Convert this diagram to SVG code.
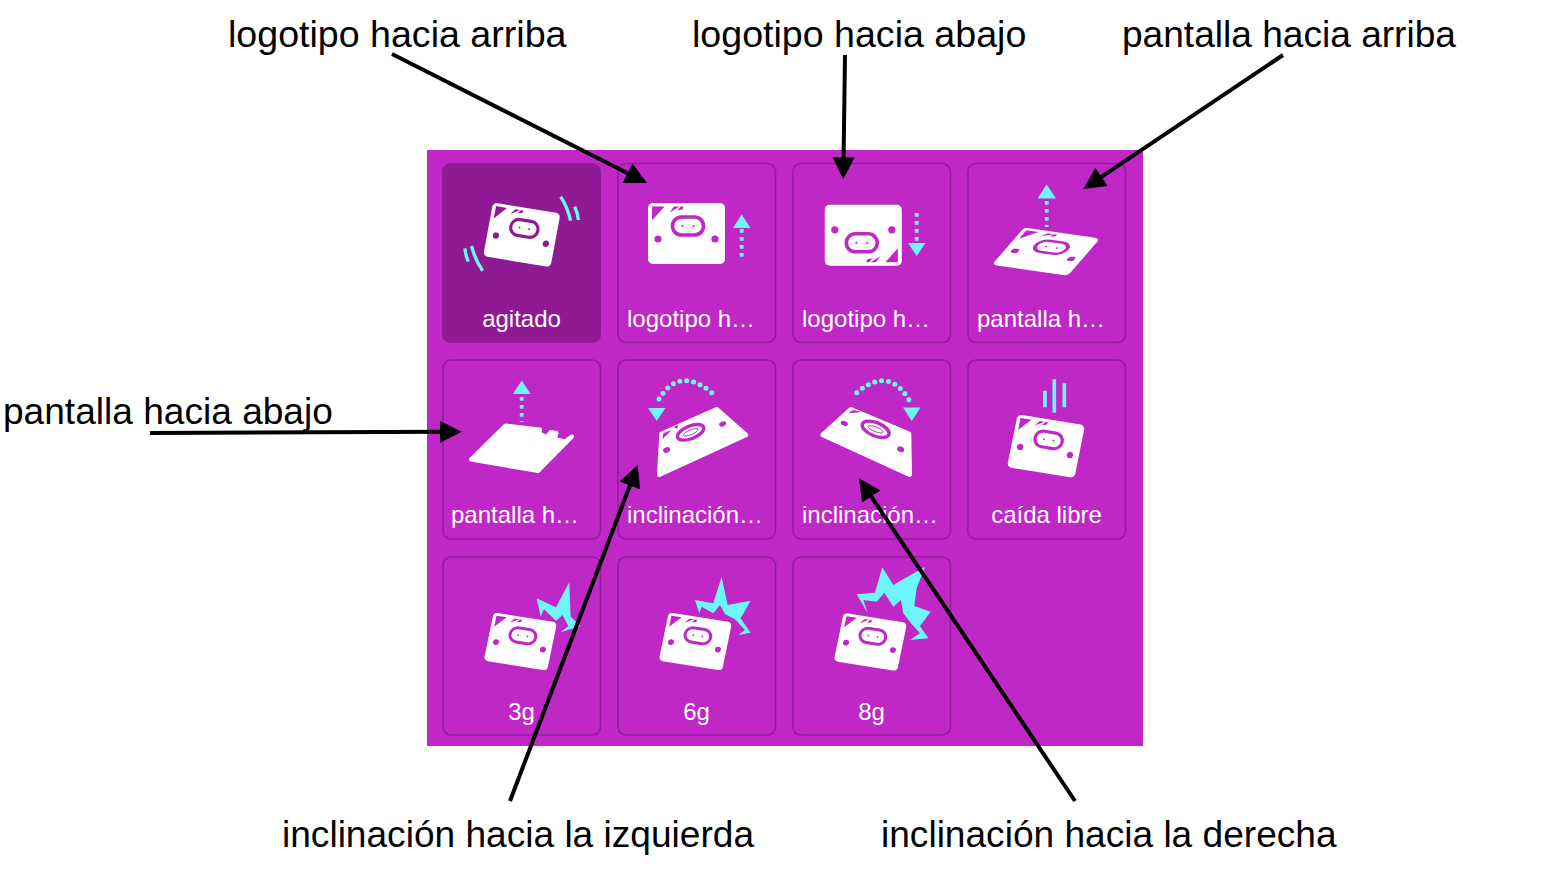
<svg xmlns="http://www.w3.org/2000/svg" xmlns:xlink="http://www.w3.org/1999/xlink" width="1552" height="879" viewBox="0 0 1552 879">
<style>
text{font-family:"Liberation Sans",Arial,sans-serif}
.bg{fill:#c027c7}
.tile{fill:#c027c7;stroke:#921e9a;stroke-width:1.6}
.tile.sel{fill:#901a94;stroke:none}
.tl{fill:#fff;font-size:24px;text-anchor:middle}
.tls{fill:#fff;font-size:24px}
.cap{fill:#000;font-size:37.1px}
.cap.big{font-size:37.6px}
.w{fill:#fff}
.cut{fill:currentColor}
.ovl{fill:#fff;stroke:currentColor;stroke-width:3.6}
.c{fill:#6ef7fb}
.dots{fill:none;stroke:#6ef7fb;stroke-width:3.8;stroke-dasharray:3.8 4.2}
.arc{fill:none;stroke:#6ef7fb;stroke-width:5;stroke-linecap:round;stroke-dasharray:0 7}
.sh{fill:none;stroke:#6ef7fb;stroke-width:10}
.ar{stroke:#000;stroke-width:4;fill:none;marker-end:url(#ah)}
</style>
<defs>
<marker id="ah" markerUnits="userSpaceOnUse" markerWidth="22" markerHeight="22" refX="6" refY="11" orient="auto" viewBox="0 0 22 22"><path d="M0 0L22 11L0 22Z" fill="#000"/></marker>
<g id="board">
<rect x="-38.5" y="-30.5" width="77" height="61" rx="5" class="w"/>
<polygon class="cut" points="-34.5,-27 -22,-27 -34.5,-13"/>
<polygon class="cut" points="-17,-21 -12.5,-27 -7,-27"/>
<polygon class="cut" points="-9,-23 -6,-27 -3,-27 -4,-24"/>
<rect x="-14" y="-16.5" width="31" height="18" rx="9" class="ovl"/>
<circle cx="-4" cy="-7.5" r="1.1" class="cut"/><circle cx="7" cy="-7.5" r="1.1" class="cut"/>
<circle cx="-28.5" cy="5.5" r="3.6" class="cut"/><circle cx="28.5" cy="5.5" r="3.6" class="cut"/>
</g>
</defs>
<rect class="bg" x="427" y="150" width="716" height="596"/>

<g id="agitado" color="#901a94">
<rect class="tile sel" x="442" y="163.3" width="159" height="179.5" rx="8"/>
<use xlink:href="#board" href="#board" transform="matrix(.875 .143 -.164 .88 521.8 234.8)"/>
<g transform="translate(430 150) scale(.3333)">
<path class="sh" d="M392 140Q412 170 422 212"/><path class="sh" d="M434 170Q444 190 445 210"/>
<path class="sh" d="M105 295Q106 315 115 335"/><path class="sh" d="M125 288Q135 330 158 362"/>
</g>
<text class="tl" x="521.5" y="326.5">agitado</text>
</g>

<g id="logotipo-arriba" color="#c027c7">
<rect class="tile" x="618" y="163.5" width="157.5" height="179" rx="8"/>
<use xlink:href="#board" href="#board" transform="translate(686.5 233.5)"/>
<polygon class="c" points="741.7,214.5 733,228 750.5,228"/>
<line class="dots" x1="741.7" y1="229" x2="741.7" y2="257"/>
<text class="tls" x="627" y="326.5">logotipo h…</text>
</g>

<g id="logotipo-abajo" color="#c027c7">
<rect class="tile" x="793" y="163.5" width="157.5" height="179" rx="8"/>
<use xlink:href="#board" href="#board" transform="rotate(180 863.3 235.3) translate(863.3 235.3)"/>
<polygon class="c" points="916.7,256 908,243 925.5,243"/>
<line class="dots" x1="916.7" y1="213" x2="916.7" y2="241"/>
<text class="tls" x="802" y="326.5">logotipo h…</text>
</g>

<g id="pantalla-arriba" color="#c027c7">
<rect class="tile" x="968" y="163.5" width="157.5" height="179" rx="8"/>
<use xlink:href="#board" href="#board" transform="matrix(.985 .143 -.53 .61 1046 251.6)"/>
<polygon class="c" points="1046.7,184.5 1037.5,198.5 1056,198.5"/>
<line class="dots" x1="1046.7" y1="201" x2="1046.7" y2="227"/>
<text class="tls" x="977" y="326.5">pantalla h…</text>
</g>

<g id="pantalla-abajo" color="#c027c7">
<rect class="tile" x="443" y="360" width="157.5" height="179" rx="8"/>
<path class="w" stroke="#fff" stroke-width="4" stroke-linejoin="round" d="M505.5 425.5L540 429.5L539.5 433.5L546.7 437L550.7 432L556.5 433L555 439L565 441.5L572 436.5L538 471L471 459.5Z"/>
<polygon class="c" points="521.7,380.5 513,394 530.5,394"/>
<line class="dots" x1="521.7" y1="397" x2="521.7" y2="422"/>
<text class="tls" x="451" y="522.5">pantalla h…</text>
</g>

<g id="inclinacion-izquierda" color="#c027c7">
<rect class="tile" x="618" y="360" width="157.5" height="179" rx="8"/>
<g transform="translate(430 350) scale(.3333)">
<polygon class="w" stroke="#fff" stroke-width="14" stroke-linejoin="round" points="695,252 860,178 948,255 688,374"/>
<polygon class="cut" points="697,268 700,250 725,240"/>
<polygon class="cut" points="730,232 745,225 742,236"/>
<ellipse cx="782" cy="247" rx="42" ry="19" transform="rotate(-22 782 247)" fill="none" stroke="currentColor" stroke-width="10"/>
<ellipse cx="782" cy="247" rx="24" ry="7" transform="rotate(-22 782 247)" fill="none" stroke="currentColor" stroke-width="2.5"/>
<ellipse cx="710" cy="300" rx="11" ry="8" transform="rotate(-22 710 300)" class="cut"/>
<ellipse cx="878" cy="222" rx="11" ry="7" transform="rotate(-22 878 222)" class="cut"/>
</g>
<path class="arc" d="M711.7 392.7Q679 365.5 658.3 400"/>
<polygon class="c" points="656.7,421 648,408 665.5,408"/>
<text class="tls" x="627" y="522.5">inclinación…</text>
</g>

<g id="inclinacion-derecha" color="#c027c7">
<rect class="tile" x="793" y="360" width="157.5" height="179" rx="8"/>
<g transform="translate(785 350) scale(.3333)">
<polygon class="w" stroke="#fff" stroke-width="14" stroke-linejoin="round" points="198,178 372,252 374,374 113,255"/>
<polygon class="cut" points="190,190 204,180 232,186"/>
<ellipse cx="272" cy="238" rx="43" ry="20" transform="rotate(22 272 238)" fill="none" stroke="currentColor" stroke-width="10"/>
<ellipse cx="272" cy="238" rx="24" ry="7" transform="rotate(22 272 238)" fill="none" stroke="currentColor" stroke-width="2.5"/>
<ellipse cx="178" cy="220" rx="11" ry="7" transform="rotate(22 178 220)" class="cut"/>
<ellipse cx="347" cy="298" rx="11" ry="8" transform="rotate(22 347 298)" class="cut"/>
</g>
<path class="arc" d="M856.7 392.7Q889 365.5 909 400"/>
<polygon class="c" points="911.7,421 903,407.5 920.5,407.5"/>
<text class="tls" x="802" y="522.5">inclinación…</text>
</g>

<g id="caida-libre" color="#c027c7">
<rect class="tile" x="968" y="360" width="157.5" height="179" rx="8"/>
<use xlink:href="#board" href="#board" transform="matrix(.875 .143 -.175 .865 1046 446.2)"/>
<g transform="translate(785 350) scale(.3333)">
<path class="sh" style="stroke-width:11" d="M780 122V172M808 88V188M838 100V172"/>
</g>
<text class="tl" x="1046.5" y="522.5">caída libre</text>
</g>

<g id="tres-g" color="#c027c7">
<rect class="tile" x="443" y="557" width="157.5" height="178" rx="8"/>
<polygon class="c" transform="translate(430 550) scale(.3333)" points="320,145 378,172 418,97 422,200 452,228 392,247 415,228 398,195 378,212 342,178 332,200"/>
<use xlink:href="#board" href="#board" transform="matrix(.823 .13 -.164 .79 520.4 641.5)"/>
<text class="tl" x="521.5" y="720">3g</text>
</g>

<g id="seis-g" color="#c027c7">
<rect class="tile" x="618" y="557" width="157.5" height="178" rx="8"/>
<polygon class="c" transform="translate(430 550) scale(.3333)" points="795,150 850,160 875,80 893,165 962,152 932,205 962,248 925,255 945,240 915,208 885,192 870,165 850,190 815,170 808,190"/>
<use xlink:href="#board" href="#board" transform="matrix(.823 .13 -.164 .79 695.4 641.5)"/>
<text class="tl" x="696.5" y="720">6g</text>
</g>

<g id="ocho-g" color="#c027c7">
<rect class="tile" x="793" y="557" width="157.5" height="178" rx="8"/>
<polygon class="c" transform="translate(785 550) scale(.3333)" points="215,133 270,128 292,52 325,105 420,50 395,115 388,168 437,185 405,228 430,265 375,270 405,250 380,222 355,190 348,150 325,170 298,128 275,155 235,150 248,190"/>
<use xlink:href="#board" href="#board" transform="matrix(.823 .13 -.164 .79 870.4 642)"/>
<text class="tl" x="871.5" y="720">8g</text>
</g>

<g id="captions">
<text class="cap big" x="228" y="46.5">logotipo hacia arriba</text>
<text class="cap big" x="692" y="46.5">logotipo hacia abajo</text>
<text class="cap" x="1122" y="46.5">pantalla hacia arriba</text>
<text class="cap" x="3" y="423.5">pantalla hacia abajo</text>
<text class="cap" x="282" y="847">inclinación hacia la izquierda</text>
<text class="cap" x="881" y="847">inclinación hacia la derecha</text>
</g>

<g id="connectors">
<line class="ar" x1="392" y1="54" x2="632.7" y2="175.8"/>
<line class="ar" x1="845" y1="55" x2="843.5" y2="163.3"/>
<line class="ar" x1="1283" y1="55" x2="1096.6" y2="180.1"/>
<line class="ar" x1="150" y1="433" x2="445.7" y2="431.8"/>
<line class="ar" x1="510" y1="801" x2="632" y2="480"/>
<line class="ar" x1="1075" y1="801" x2="867.9" y2="491.6"/>
</g>
</svg>
